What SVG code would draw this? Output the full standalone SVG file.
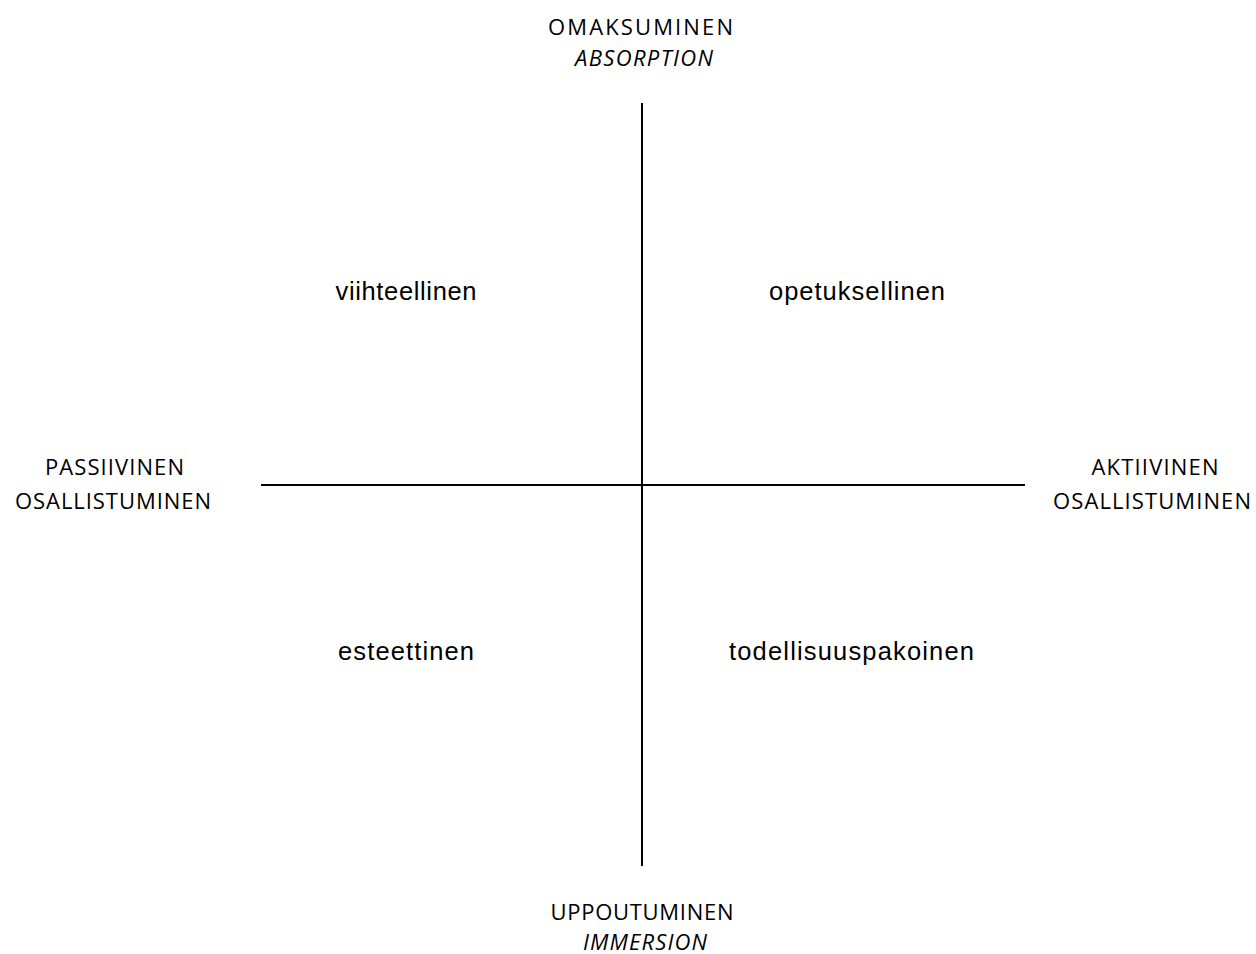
<svg xmlns="http://www.w3.org/2000/svg" width="1256" height="954" viewBox="0 0 1256 954">
<style>
.axis{font-family:"Open Sans","Liberation Sans",sans-serif;font-size:22px;fill:#000;text-anchor:middle}
.it{font-style:italic}
.q{font-family:"Liberation Sans",Arial,sans-serif;font-size:25.5px;fill:#000;text-anchor:middle}
.ln{stroke:#000;stroke-width:2;fill:none}
</style>
<rect width="1256" height="954" fill="#fff"/>
<g id="connectors">
<line class="ln" x1="642" y1="103" x2="642" y2="866"/>
<line class="ln" x1="261" y1="485" x2="1025" y2="485"/>
</g>
<g id="top"><text class="axis" x="640.5" y="35" textLength="185">OMAKSUMINEN</text><text class="axis it" x="644" y="66" textLength="138">ABSORPTION</text></g>
<g id="bottom"><text class="axis" x="642" y="920" textLength="183">UPPOUTUMINEN</text><text class="axis it" x="645" y="950" textLength="124">IMMERSION</text></g>
<g id="left"><text class="axis" x="114.5" y="475" textLength="139">PASSIIVINEN</text><text class="axis" x="113" y="509" textLength="196">OSALLISTUMINEN</text></g>
<g id="right"><text class="axis" x="1155" y="475" textLength="127">AKTIIVINEN</text><text class="axis" x="1152" y="509" textLength="198">OSALLISTUMINEN</text></g>
<g id="q1"><text class="q" x="406" y="300" textLength="141">viihteellinen</text></g>
<g id="q2"><text class="q" x="857" y="300" textLength="176">opetuksellinen</text></g>
<g id="q3"><text class="q" x="406" y="660" textLength="136">esteettinen</text></g>
<g id="q4"><text class="q" x="851.5" y="660" textLength="245">todellisuuspakoinen</text></g>
</svg>
